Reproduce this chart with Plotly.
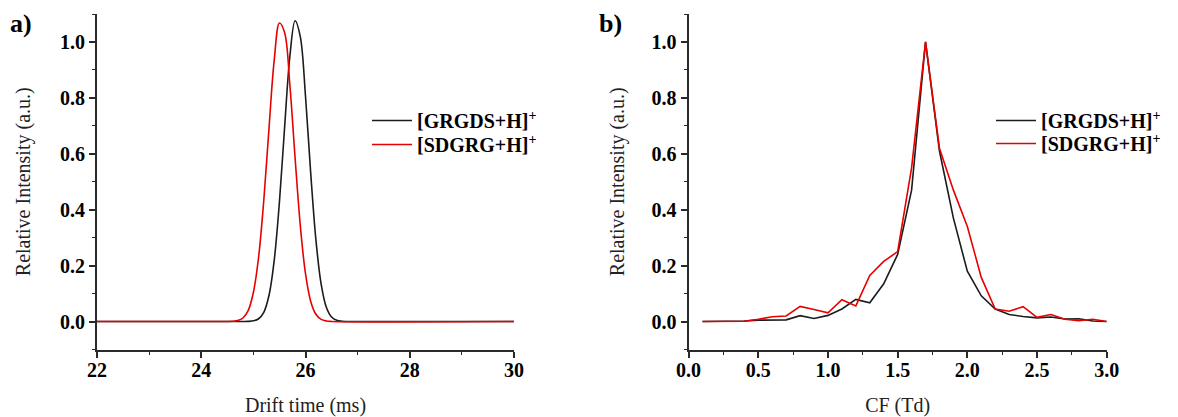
import plotly.graph_objects as go

# Panel a: drift time (ms) vs relative intensity
drift_grgds_x = [22.0, 24.8, 24.9, 25.0, 25.1, 25.2, 25.3, 25.4, 25.5, 25.6, 25.7, 25.8, 25.9,
                 26.0, 26.1, 26.2, 26.3, 26.4, 26.5, 26.6, 26.7, 26.8, 30.0]
drift_grgds_y = [0.0, 0.0001, 0.0005, 0.0025, 0.010, 0.033, 0.094, 0.219, 0.428, 0.697, 0.948,
                 1.076, 1.019, 0.806, 0.531, 0.292, 0.134, 0.051, 0.016, 0.0044, 0.001, 0.0002, 0.0]
drift_sdgrg_x = [22.0, 24.5, 24.6, 24.7, 24.8, 24.9, 25.0, 25.1, 25.2, 25.3, 25.4, 25.5, 25.6,
                 25.7, 25.8, 25.9, 26.0, 26.1, 26.2, 26.3, 26.4, 26.5, 30.0]
drift_sdgrg_y = [0.0, 0.0001, 0.0008, 0.0035, 0.0127, 0.039, 0.104, 0.230, 0.434, 0.692, 0.935,
                 1.068, 1.033, 0.846, 0.586, 0.344, 0.171, 0.072, 0.026, 0.0077, 0.002, 0.0004, 0.0]

# Panel b: CF (Td) vs relative intensity
cf_x = [0.1, 0.2, 0.3, 0.4, 0.5, 0.6, 0.7, 0.8, 0.9, 1.0, 1.1, 1.2, 1.3, 1.4, 1.5,
        1.6, 1.7, 1.8, 1.9, 2.0, 2.1, 2.2, 2.3, 2.4, 2.5, 2.6, 2.7, 2.8, 2.9, 3.0]
cf_grgds_y = [0.0, 0.0, 0.0, 0.002, 0.005, 0.006, 0.006, 0.021, 0.011, 0.022, 0.045, 0.079,
              0.067, 0.135, 0.24, 0.47, 1.0, 0.61, 0.37, 0.18, 0.092, 0.045, 0.025, 0.018,
              0.013, 0.016, 0.009, 0.010, 0.002, 0.0]
cf_sdgrg_y = [0.0, 0.0, 0.0, 0.001, 0.008, 0.017, 0.020, 0.054, 0.043, 0.031, 0.078, 0.056,
              0.165, 0.215, 0.25, 0.55, 1.0, 0.62, 0.47, 0.34, 0.158, 0.045, 0.037, 0.053,
              0.015, 0.025, 0.008, 0.003, 0.008, 0.0]

names = ["[GRGDS+H]<sup>+</sup>", "[SDGRG+H]<sup>+</sup>"]
colors = ["#1c1c1c", "#e60000"]

SERIF = "Liberation Serif"
AXC = "#2a2a2a"
OFF = 8                      # page body margin of the html page
W, H = 1178 - OFF, 417 - OFF

def xp(px):
    return (px - OFF) / W

def yp(py):
    return 1 - (py - OFF) / H

fig = go.Figure()
fig.add_trace(go.Scatter(x=drift_grgds_x, y=drift_grgds_y, mode="lines", name=names[0],
                         line=dict(color=colors[0], width=1.6, shape="spline"),
                         xaxis="x", yaxis="y", legend="legend", showlegend=True))
fig.add_trace(go.Scatter(x=drift_sdgrg_x, y=drift_sdgrg_y, mode="lines", name=names[1],
                         line=dict(color=colors[1], width=1.6, shape="spline"),
                         xaxis="x", yaxis="y", legend="legend2", showlegend=True))
fig.add_trace(go.Scatter(x=cf_x, y=cf_grgds_y, mode="lines", name=names[0],
                         line=dict(color=colors[0], width=1.6),
                         xaxis="x2", yaxis="y2", legend="legend3", showlegend=True))
fig.add_trace(go.Scatter(x=cf_x, y=cf_sdgrg_y, mode="lines", name=names[1],
                         line=dict(color=colors[1], width=1.6),
                         xaxis="x2", yaxis="y2", legend="legend4", showlegend=True))

tickfont = dict(family=SERIF, size=20, color="black", weight="bold")
titlefont = dict(family=SERIF, size=20, color="#222")

def xaxis_cfg(domain, rng, dtick, minor_dtick, title, anchor, fmt):
    return dict(domain=domain, range=rng, dtick=dtick, tick0=rng[0], anchor=anchor,
                automargin=False,
                showline=True, linecolor=AXC, linewidth=2, ticks="outside", ticklen=6,
                tickwidth=1.5, tickcolor=AXC, showgrid=False, zeroline=False,
                tickformat=fmt, tickfont=tickfont, ticklabelstandoff=-5,
                minor=dict(dtick=minor_dtick, ticks="outside", ticklen=3, tickwidth=1.2,
                           tickcolor=AXC, showgrid=False),
                title=dict(text=title, font=titlefont, standoff=19))

def yaxis_cfg(domain, anchor, title, standoff):
    return dict(domain=domain, range=[-0.1, 1.1], anchor=anchor,
                automargin=False,
                tickvals=[0, 0.2, 0.4, 0.6, 0.8, 1.0],
                showline=True, linecolor=AXC, linewidth=2, ticks="outside", ticklen=6,
                tickwidth=1.5, tickcolor=AXC, showgrid=False, zeroline=False,
                tickformat=".1f", tickfont=tickfont,
                minor=dict(dtick=0.1, tick0=0, ticks="outside", ticklen=3, tickwidth=1.2,
                           tickcolor=AXC, showgrid=False),
                title=dict(text=title, font=titlefont, standoff=standoff))

ydom = [yp(349.5), yp(14)]
legfont = dict(family=SERIF, size=20, color="black", weight="bold")

def leg(xpx, ypx):
    return dict(x=xp(xpx), y=yp(ypx), xanchor="left", yanchor="top", visible=True,
                bgcolor="rgba(0,0,0,0)", font=legfont, itemwidth=40, tracegroupgap=0)

fig.update_layout(
    width=W, height=H,
    showlegend=True,
    margin=dict(l=0, r=0, t=0, b=0, autoexpand=False),
    paper_bgcolor="white", plot_bgcolor="white",
    xaxis=xaxis_cfg([xp(97), xp(514)], [22, 30], 2, 1, "Drift time (ms)", "y", "d"),
    yaxis=yaxis_cfg(ydom, "x", "Relative Intensity (a.u.)", 24),
    xaxis2=xaxis_cfg([xp(688.6), xp(1106.7)], [0, 3], 0.5, 0.25, "CF (Td)", "y2", ".1f"),
    yaxis2=yaxis_cfg(ydom, "x2", "Relative Intensity (a.u.)", 22),
    legend=leg(367, 101),
    legend2=leg(367, 125),
    legend3=leg(991, 101),
    legend4=leg(991, 124),
    annotations=[
        dict(text="a)", x=xp(8), y=yp(24), xref="paper", yref="paper",
             xanchor="left", yanchor="middle", showarrow=False,
             font=dict(family=SERIF, size=26, color="black", weight="bold")),
        dict(text="b)", x=xp(597), y=yp(24), xref="paper", yref="paper",
             xanchor="left", yanchor="middle", showarrow=False,
             font=dict(family=SERIF, size=26, color="black", weight="bold")),
    ],
)

fig.write_html("out.html")
